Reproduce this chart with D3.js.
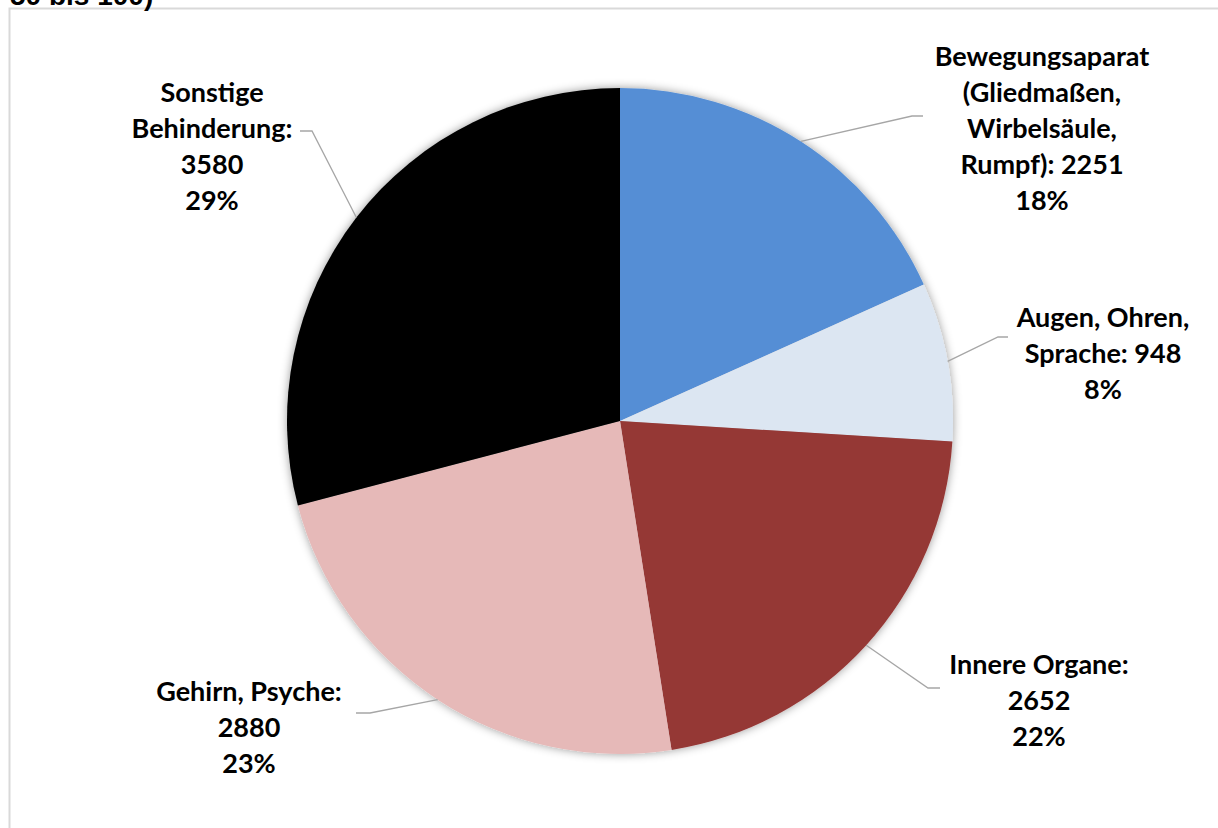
<!DOCTYPE html>
<html>
<head>
<meta charset="utf-8">
<script src="https://cdn.jsdelivr.net/npm/d3@7/dist/d3.min.js"></script>
<style>
  html, body { margin: 0; padding: 0; background: #ffffff; }
  svg { display: block; }
</style>
</head>
<body>
<svg id="chart" width="1218" height="828"></svg>
<script>
// Slices, clockwise from 12 o'clock
const categories = [
  ["Bewegungsaparat", "(Gliedmaßen,", "Wirbelsäule,", "Rumpf): 2251"],
  ["Augen, Ohren,", "Sprache: 948"],
  ["Innere Organe:", "2652"],
  ["Gehirn, Psyche:", "2880"],
  ["Sonstige", "Behinderung:", "3580"]
];
const values = [2251, 948, 2652, 2880, 3580];
const colors = ["#558ed5", "#dce6f2", "#953735", "#e6b9b8", "#000000"];

// Label block anchors (centre x, first line y) and leader elbow points
const labelLayout = [
  { x: 1042, y: 57,  elbow: [912, 116], end: [923, 116] },
  { x: 1103, y: 318, elbow: [998, 337], end: [1008, 337] },
  { x: 1039, y: 665, elbow: [928, 688], end: [940, 688] },
  { x: 249,  y: 692, elbow: [370, 713], end: [356, 713] },
  { x: 212,  y: 93,  elbow: [312, 131], end: [300, 131] }
];

const width = 1218, height = 828;
const cx = 620, cy = 421, radius = 333;
const lineHeight = 36;

const svg = d3.select("#chart");

// Plot-area frame, running off the right and bottom edges
svg.append("rect")
  .attr("x", 9.5).attr("y", 8.5)
  .attr("width", width + 20).attr("height", height + 20)
  .attr("fill", "none")
  .attr("stroke", "#d9d9d9")
  .attr("stroke-width", 2);

// Tail of the heading above the frame
svg.append("text")
  .attr("x", 10).attr("y", 5)
  .attr("font-family", "'Liberation Sans', Arial, sans-serif")
  .attr("font-weight", "bold")
  .attr("font-size", 28)
  .attr("fill", "#000")
  .text("50 bis 100)");

const defs = svg.append("defs");
const shadow = defs.append("filter")
  .attr("id", "pieShadow")
  .attr("x", "-10%").attr("y", "-10%")
  .attr("width", "120%").attr("height", "120%");
shadow.append("feDropShadow")
  .attr("dx", 0).attr("dy", 0)
  .attr("stdDeviation", 5)
  .attr("flood-color", "#000")
  .attr("flood-opacity", 0.4);

const pie = d3.pie().sort(null).value(d => d);
const arcs = pie(values);
const total = d3.sum(values);
const arc = d3.arc().innerRadius(0).outerRadius(radius);

const g = svg.append("g").attr("transform", `translate(${cx},${cy})`);

g.append("g").attr("filter", "url(#pieShadow)")
  .selectAll("path")
  .data(arcs)
  .join("path")
  .attr("d", arc)
  .attr("fill", (d, i) => colors[i]);

// Leader lines: from slice edge at mid-angle to the label elbow
const leaders = svg.append("g");
arcs.forEach((d, i) => {
  const mid = (d.startAngle + d.endAngle) / 2;
  const p0 = [cx + radius * Math.sin(mid), cy - radius * Math.cos(mid)];
  const L = labelLayout[i];
  leaders.append("polyline")
    .attr("points", [p0, L.elbow, L.end].map(p => p.join(",")).join(" "))
    .attr("fill", "none")
    .attr("stroke", "#a6a6a6")
    .attr("stroke-width", 1.3);
});

// Data labels: category, value, percentage
const labels = svg.append("g")
  .attr("font-family", "Lato, 'Open Sans', sans-serif")
  .attr("font-weight", "bold")
  .attr("font-size", 27)
  .attr("fill", "#000")
  .attr("text-anchor", "middle");

arcs.forEach((d, i) => {
  const L = labelLayout[i];
  const lines = categories[i].concat([Math.round(d.value / total * 100) + "%"]);
  const t = labels.append("text").attr("x", L.x).attr("y", L.y);
  lines.forEach((s, k) => {
    t.append("tspan")
      .attr("x", L.x)
      .attr("y", L.y + k * lineHeight)
      .attr("dy", "0.35em")
      .text(s);
  });
});
</script>
</body>
</html>
